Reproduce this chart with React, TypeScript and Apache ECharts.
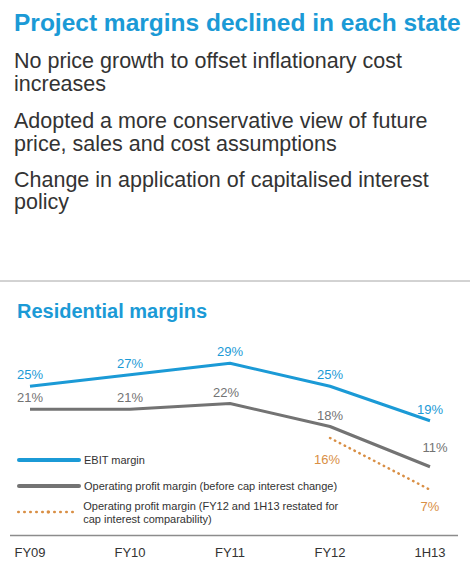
import React, { useEffect, useRef } from "react";
import * as echarts from "echarts";

const categories = ["FY09", "FY10", "FY11", "FY12", "1H13"];
const ebitMargin = [25, 27, 29, 25, 19];
const opMargin = [21, 21, 22, 18, 11];
const opMarginRestated: (number | string)[] = ["-", "-", "-", 16, 7];
const seriesNames = [
  "EBIT margin",
  "Operating profit margin (before cap interest change)",
  "Operating profit margin (FY12 and 1H13 restated for\ncap interest comparability)",
];
const headline = "Project margins declined in each state";
const bulletLines = [
  ["No price growth to offset inflationary cost", "increases"],
  ["Adopted a more conservative view of future", "price, sales and cost assumptions"],
  ["Change in application of capitalised interest", "policy"],
];
const chartTitle = "Residential margins";

const FONT = "Liberation Sans, Arial, Helvetica, sans-serif";
const BLUE = "#1b9ad6";
const GRAY = "#737373";
const ORANGE = "#d98f45";

export default function App() {
  const ref = useRef<HTMLDivElement>(null);
  useEffect(() => {
    document.body.style.margin = "0";
    if (!ref.current) return;
    const chart = echarts.init(ref.current, undefined, { renderer: "svg" });
    const bulletCenters = [61.4, 121.2, 179.6];
    const legendBase = {
      orient: "vertical" as const,
      left: 17,
      padding: 0,
      itemWidth: 60,
      itemHeight: 4,
      itemGap: 13,
      textStyle: { fontFamily: FONT, fontSize: 11, color: "#333", lineHeight: 13 },
    };
    const labelBase = {
      show: true,
      formatter: "{c}%",
      fontSize: 13,
      fontFamily: FONT,
    };
    const option: any = {
      animation: false,
      textStyle: { fontFamily: FONT },
      grid: { left: 30, right: 40, top: 328.75, height: 207 },
      xAxis: {
        type: "category",
        data: categories,
        boundaryGap: false,
        axisLine: { show: false },
        axisTick: { show: false },
        axisLabel: { margin: 10, fontSize: 13, color: "#333", fontFamily: FONT },
      },
      yAxis: { type: "value", min: -1, max: 35, show: false },
      legend: [
        {
          ...legendBase,
          top: 453.5,
          data: [seriesNames[0]],
          lineStyle: { width: 4, cap: "round" },
        },
        {
          ...legendBase,
          top: 479.5,
          data: [seriesNames[1]],
          lineStyle: { width: 4, cap: "round" },
        },
        {
          ...legendBase,
          top: 492.5,
          data: [{ name: seriesNames[2], textStyle: { padding: [13, 0, 0, 0] } }],
          lineStyle: { width: 2.5, cap: "round", type: [0.5, 5.5] },
        },
      ],
      series: [
        {
          name: seriesNames[0],
          type: "line",
          data: ebitMargin,
          symbol: "circle",
          symbolSize: 0,
          lineStyle: { color: BLUE, width: 3 },
          itemStyle: { color: BLUE },
          label: { ...labelBase, position: "top", color: BLUE },
        },
        {
          name: seriesNames[1],
          type: "line",
          data: opMargin.map((v, i) =>
            i === 2
              ? { value: v, label: { offset: [-4, 0] } }
              : i === 4
              ? { value: v, label: { offset: [5, -8] } }
              : v
          ),
          symbol: "circle",
          symbolSize: 0,
          lineStyle: { color: GRAY, width: 3 },
          itemStyle: { color: GRAY },
          label: { ...labelBase, position: "top", color: GRAY },
        },
        {
          name: seriesNames[2],
          type: "line",
          data: opMarginRestated.map((v, i) =>
            i === 3 ? { value: v, label: { distance: 15, offset: [-3, 0] } } : v
          ),
          symbol: "circle",
          symbolSize: 0,
          lineStyle: { color: ORANGE, width: 2.5, type: [0.5, 5], cap: "round" },
          itemStyle: { color: ORANGE },
          label: { ...labelBase, position: "bottom", distance: 10, color: ORANGE },
        },
      ],
      graphic: [
        {
          type: "text",
          x: 14,
          y: 22.5,
          style: {
            text: headline,
            fontFamily: FONT,
            fontWeight: "bold",
            fontSize: 24.5,
            fill: BLUE,
            verticalAlign: "middle",
          },
        },
        ...bulletLines.flatMap((lines, i) =>
          lines.map((line, j) => ({
            type: "text",
            x: 14,
            y: bulletCenters[i] + j * 22.5,
            style: {
              text: line,
              fontFamily: FONT,
              fontSize: 21.5,
              fill: "#333",
              verticalAlign: "middle",
            },
          }))
        ),
        {
          type: "line",
          shape: { x1: 0, y1: 281, x2: 470, y2: 281 },
          style: { stroke: "#a6a6a6", lineWidth: 1 },
        },
        {
          type: "text",
          x: 17,
          y: 311.3,
          style: {
            text: chartTitle,
            fontFamily: FONT,
            fontWeight: "bold",
            fontSize: 20,
            fill: BLUE,
            verticalAlign: "middle",
          },
        },
        {
          type: "line",
          shape: { x1: 10, y1: 535.5, x2: 458, y2: 535.5 },
          style: { stroke: "#8c8c8c", lineWidth: 1.5 },
        },
      ],
    };
    chart.setOption(option);
    return () => chart.dispose();
  }, []);
  return <div ref={ref} style={{ width: 470, height: 580 }} />;
}
